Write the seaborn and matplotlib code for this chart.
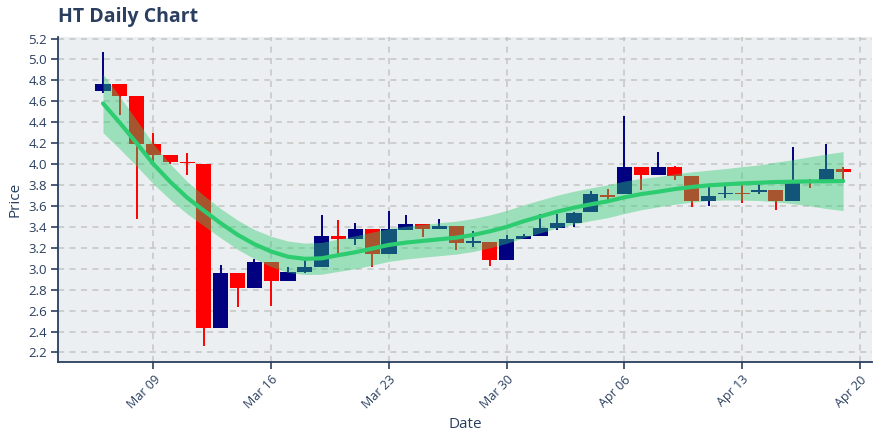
import numpy as np
import pandas as pd
import seaborn as sns
import matplotlib
matplotlib.use("Agg")
import matplotlib.pyplot as plt

# daily OHLC (Mar 06 .. Apr 19)
dates = pd.date_range("2020-03-06", "2020-04-19", freq="D")
opens = [4.70, 4.77, 4.65, 4.19, 4.09, 4.02, 4.00, 2.43, 2.96, 2.82,
         3.06, 2.88, 2.97, 3.02, 3.31, 3.28, 3.38, 3.14, 3.37, 3.43,
         3.38, 3.41, 3.25, 3.26, 3.08, 3.28, 3.31, 3.39, 3.44, 3.54,
         3.70, 3.71, 3.97, 3.90, 3.97, 3.89, 3.65, 3.71, 3.72, 3.73,
         3.75, 3.65, 3.84, 3.82, 3.95]
highs = [5.07, 4.77, 4.65, 4.30, 4.09, 4.11, 4.00, 3.04, 2.96, 3.09,
         3.06, 3.02, 3.09, 3.51, 3.47, 3.44, 3.38, 3.55, 3.51, 3.43,
         3.48, 3.41, 3.36, 3.26, 3.32, 3.33, 3.52, 3.52, 3.54, 3.74,
         3.76, 4.46, 3.97, 4.12, 3.98, 3.89, 3.78, 3.79, 3.80, 3.82,
         3.75, 4.16, 3.86, 4.19, 3.97]
lows = [4.68, 4.47, 3.48, 4.01, 4.00, 3.90, 2.26, 2.43, 2.63, 2.82,
        2.64, 2.88, 2.96, 3.02, 3.14, 3.23, 3.02, 3.14, 3.37, 3.30,
        3.38, 3.18, 3.21, 3.03, 3.08, 3.28, 3.31, 3.37, 3.40, 3.54,
        3.65, 3.71, 3.75, 3.90, 3.85, 3.59, 3.60, 3.68, 3.63, 3.71,
        3.56, 3.65, 3.77, 3.82, 3.85]
closes = [4.77, 4.65, 4.19, 4.09, 4.02, 4.01, 2.43, 2.96, 2.82, 3.06,
          2.88, 2.97, 3.02, 3.31, 3.28, 3.38, 3.14, 3.38, 3.43, 3.38,
          3.41, 3.25, 3.26, 3.08, 3.28, 3.31, 3.39, 3.44, 3.53, 3.71,
          3.69, 3.97, 3.90, 3.97, 3.89, 3.65, 3.70, 3.72, 3.71, 3.75,
          3.65, 3.82, 3.82, 3.95, 3.92]

# smoothed trend and its band per day
trend = [4.580, 4.395, 4.200, 4.000, 3.830, 3.680, 3.555, 3.435, 3.325, 3.235,
         3.165, 3.115, 3.095, 3.100, 3.130, 3.158, 3.193, 3.228, 3.250, 3.266,
         3.282, 3.297, 3.323, 3.358, 3.400, 3.454, 3.500, 3.546, 3.584, 3.616,
         3.645, 3.683, 3.714, 3.736, 3.762, 3.781, 3.797, 3.807, 3.816, 3.822,
         3.829, 3.832, 3.835, 3.836, 3.838]
band_lo = [4.300, 4.145, 3.980, 3.810, 3.660, 3.525, 3.410, 3.295, 3.185, 3.095,
           3.020, 2.965, 2.945, 2.948, 2.975, 3.000, 3.035, 3.070, 3.093, 3.110,
           3.125, 3.140, 3.165, 3.200, 3.243, 3.297, 3.343, 3.390, 3.427, 3.460,
           3.488, 3.528, 3.564, 3.591, 3.617, 3.636, 3.652, 3.657, 3.656, 3.652,
           3.639, 3.622, 3.600, 3.576, 3.555]
band_hi = [4.860, 4.645, 4.420, 4.190, 4.000, 3.835, 3.700, 3.575, 3.465, 3.375,
           3.310, 3.265, 3.245, 3.252, 3.285, 3.315, 3.350, 3.385, 3.407, 3.423,
           3.440, 3.455, 3.480, 3.515, 3.557, 3.611, 3.657, 3.703, 3.741, 3.773,
           3.802, 3.838, 3.864, 3.881, 3.907, 3.926, 3.942, 3.957, 3.976, 3.992,
           4.019, 4.042, 4.070, 4.096, 4.120]

tick_dates = ["2020-03-09", "2020-03-16", "2020-03-23", "2020-03-30",
              "2020-04-06", "2020-04-13", "2020-04-20"]
tick_labels = ["Mar 09", "Mar 16", "Mar 23", "Mar 30", "Apr 06", "Apr 13", "Apr 20"]
y_ticks = [2.2, 2.4, 2.6, 2.8, 3.0, 3.2, 3.4, 3.6, 3.8, 4.0, 4.2, 4.4, 4.6, 4.8, 5.0, 5.2]

df = pd.DataFrame({"date": dates, "open": opens, "high": highs,
                   "low": lows, "close": closes, "trend": trend,
                   "lo": band_lo, "hi": band_hi})
df["day"] = (df["date"] - df["date"].iloc[0]).dt.days
df["up"] = df["close"] >= df["open"]

txt = "#2a3f5f"
sns.set_theme(style="whitegrid", rc={
    "axes.facecolor": "#eceff1",
    "grid.color": "#c4c4c4",
    "grid.linestyle": (0, (4, 3.5)),
    "grid.linewidth": 1.1,
    "axes.edgecolor": txt,
    "text.color": txt,
    "axes.labelcolor": txt,
    "xtick.color": txt,
    "ytick.color": txt,
})
plt.rcParams["font.family"] = ["Open Sans", "DejaVu Sans"]

fig = plt.figure(figsize=(8.8, 4.4), dpi=100)
ax = fig.add_axes([0.066, 0.177, 0.925, 0.739])

up_col = "#000080"
down_col = "#ff0000"
colors = np.where(df["up"], up_col, down_col)

# wicks
ax.vlines(df["day"], df["low"], df["high"], colors=colors, linewidth=1.4, zorder=2)
# bodies
body_low = np.minimum(df["open"], df["close"])
body_h = np.maximum(np.abs(df["close"] - df["open"]), 0.012)
ax.bar(df["day"], body_h, bottom=body_low, width=0.9, color=colors,
       linewidth=0, zorder=2)

# trend band + line
green = "#2ecc71"
ax.fill_between(df["day"], df["lo"], df["hi"], color=green, alpha=0.42,
                linewidth=0, zorder=3)
sns.lineplot(data=df, x="day", y="trend", color=green, linewidth=3,
             zorder=4, ax=ax)

first = df["date"].iloc[0]
tick_pos = [(pd.Timestamp(d) - first).days for d in tick_dates]
ax.set_xticks(tick_pos)
ax.set_xticklabels(tick_labels, rotation=45, ha="right", rotation_mode="anchor",
                   fontsize=9)
ax.set_yticks(y_ticks)
ax.set_yticklabels([f"{v:.1f}" for v in y_ticks], fontsize=9.5)
ax.set_xlim(-2.67, 45.72)
ax.set_ylim(2.108, 5.215)

ax.tick_params(axis="both", which="major", length=5, width=1.2, direction="out",
               bottom=True, left=True, pad=3)
for side in ["top", "right"]:
    ax.spines[side].set_visible(False)
for side in ["left", "bottom"]:
    ax.spines[side].set_linewidth(1.3)
    ax.spines[side].set_color(txt)

ax.set_xlabel("Date", fontsize=11, labelpad=4)
ax.set_ylabel("Price", fontsize=11, labelpad=4)
fig.text(0.066, 0.962, "HT Daily Chart", fontsize=14, fontweight="bold",
         color=txt, ha="left", va="center")

fig.savefig("out.png", dpi=100)
